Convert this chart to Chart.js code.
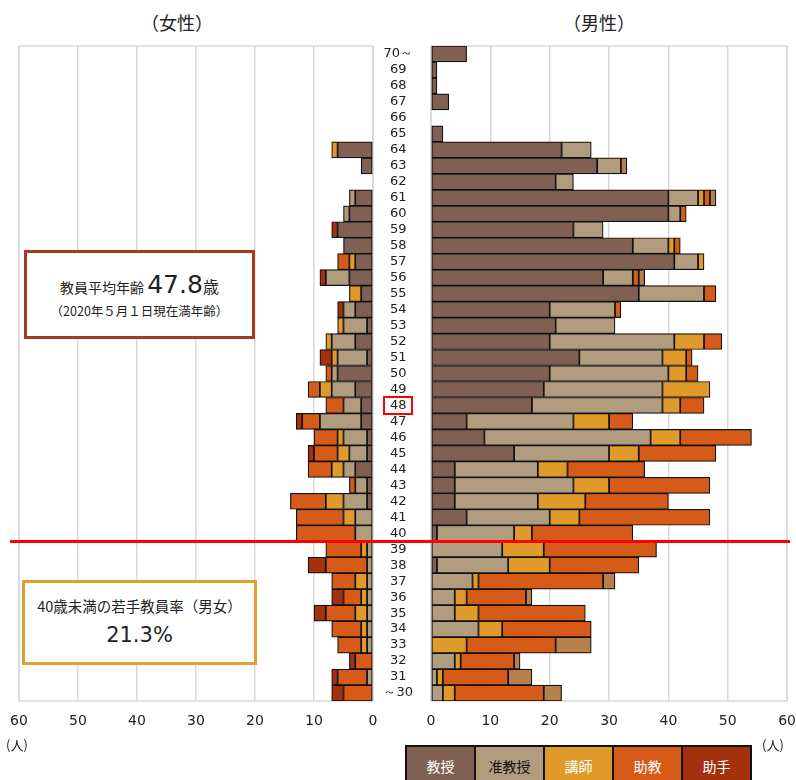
<!DOCTYPE html>
<html>
<head>
<meta charset="utf-8">
<script src="https://cdn.jsdelivr.net/npm/chart.js@4"></script>
<style>
  html, body { margin:0; padding:0; background:#fff; }
  body { width:796px; height:780px; position:relative; overflow:hidden;
         font-family:"DejaVu Sans","Noto Sans CJK JP",sans-serif; color:#222; }
  .abs { position:absolute; }
  #fwrap { left:0; top:0; width:380px; height:780px; }
  #mwrap { left:373px; top:0; width:435px; height:780px; }
  .title { font-size:18px; top:9px; font-family:"Noto Sans CJK JP",sans-serif; }
  .unit { font-size:13px; top:735px; font-family:"Noto Sans CJK JP",sans-serif; }
  #legend { left:405px; top:745px; border-collapse:collapse; }
  #legend td { border:2px solid #111; width:67px; height:38px; text-align:center;
               font-size:14px; font-family:"Noto Sans CJK JP",sans-serif; padding:0; vertical-align:middle; }
  .box { background:#fff; text-align:center; font-family:"Noto Sans CJK JP",sans-serif; box-sizing:border-box; }
  #redline { left:10px; width:780px; height:3px; background:#ff0000; }
  #redbox { border:2px solid #ff0000; box-sizing:border-box; }
</style>
</head>
<body>
<div class="abs title" style="left:141px;">（女性）</div>
<div class="abs title" style="left:563px;">（男性）</div>

<div id="fwrap" class="abs"><canvas id="fchart"></canvas></div>
<div id="mwrap" class="abs"><canvas id="mchart"></canvas></div>

<div class="abs unit" style="left:6px;">(人)</div>
<div class="abs unit" style="left:762px;">(人)</div>

<div class="abs box" style="left:24px; top:250px; width:231px; height:89px; border:3px solid #a83a1c;">
  <div style="margin-top:17px; font-size:14px; white-space:nowrap;">教員平均年齢 <span style="font-size:25px; font-family:'DejaVu Sans',sans-serif;">47.8</span><span style="font-size:16px;">歳</span></div>
  <div style="margin-top:2px; font-size:12.5px; white-space:nowrap;">（2020年５月１日現在満年齢）</div>
</div>
<div class="abs box" style="left:22px; top:580px; width:235px; height:85px; border:3px solid #e3a031;">
  <div style="margin-top:12px; font-size:14.5px; white-space:nowrap;">40歳未満の若手教員率（男女）</div>
  <div style="margin-top:7px; font-size:21px; font-family:'DejaVu Sans',sans-serif;">21.3%</div>
</div>

<div id="redline" class="abs"></div>
<div id="redbox" class="abs"></div>

<table id="legend" class="abs">
  <tr>
    <td style="background:#7f6053;color:#fff;">教授</td>
    <td style="background:#b19d7e;color:#111;">准教授</td>
    <td style="background:#e09a2a;color:#fff;">講師</td>
    <td style="background:#d65a18;color:#fff;">助教</td>
    <td style="background:#a3300f;color:#fff;">助手</td>
  </tr>
</table>

<script>
// ---- data ----
const ageLabels = ['70～','69','68','67','66','65','64','63','62','61','60','59','58','57','56','55','54','53','52','51','50','49','48','47','46','45','44','43','42','41','40','39','38','37','36','35','34','33','32','31','～30'];
const seriesNames = ['教授','准教授','講師','助教','助手'];
const xTicks = [0,10,20,30,40,50,60];

// male (男性)
const maleProfessor      = [6,1,1,3,0,2,22,28,21,40,40,24,34,41,29,35,20,21,20,25,20,19,17,6,9,14,4,4,4,6,1,0,1,0,0,0,0,0,0,0,0];
const maleAssocProfessor = [0,0,0,0,0,0,5,4,3,5,2,5,6,4,5,11,11,10,21,14,20,20,22,18,28,16,14,20,14,14,13,12,12,7,4,4,8,0,4,1,2];
const maleLecturer       = [0,0,0,0,0,0,0,0,0,1,0,0,1,1,0,0,0,0,5,4,3,8,3,6,5,5,5,6,8,5,3,7,7,1,2,4,4,6,1,1,2];
const maleAssistProf     = [0,0,0,0,0,0,0,0,0,1,1,0,1,0,1,2,1,0,3,1,2,0,4,4,12,13,13,17,14,22,17,19,15,21,10,18,15,15,9,11,15];
const maleAssistant      = [0,0,0,0,0,0,0,1,0,1,0,0,0,0,1,0,0,0,0,0,0,0,0,0,0,0,0,0,0,0,0,0,0,2,1,0,0,6,1,4,3];

// female (女性)
const femaleProfessor      = [0,0,0,0,0,0,6,2,0,3,4,6,5,3,4,2,3,1,3,1,6,3,2,2,1,1,3,1,1,0,0,0,0,0,0,0,0,0,0,0,0];
const femaleAssocProfessor = [0,0,0,0,0,0,0,0,0,1,1,0,0,0,4,0,2,4,4,5,1,4,3,7,4,3,2,2,4,3,3,1,1,1,1,1,1,1,0,1,0];
const femaleLecturer       = [0,0,0,0,0,0,1,0,0,0,0,0,0,1,0,2,0,1,1,1,0,2,0,0,1,2,2,0,3,2,0,1,0,2,1,2,1,1,0,0,0];
const femaleAssistProf     = [0,0,0,0,0,0,0,0,0,0,0,0,0,2,0,0,0,0,0,0,1,2,3,3,4,4,4,1,6,8,10,6,7,4,3,5,5,4,3,5,5];
const femaleAssistant      = [0,0,0,0,0,0,0,0,0,0,0,1,0,0,1,0,1,0,0,2,0,0,0,1,0,1,0,0,0,0,0,0,3,0,2,2,0,0,1,1,2];

const colorsFemale = ['#7f6053','#b19d7e','#e09a2a','#d65a18','#a3300f'];
const colorsMale   = ['#7f6053','#b19d7e','#e09a2a','#d65a18','#b5804b'];

function makeSets(arrs, cols){
  return arrs.map((d,i)=>({
    label: seriesNames[i], data: d, backgroundColor: cols[i],
    borderColor:'#111', borderWidth:1.2, borderSkipped:false,
    barPercentage:1, categoryPercentage:1
  }));
}

const frame = {
  id:'frame',
  beforeDatasetsDraw(chart){
    const a = chart.chartArea, c = chart.ctx;
    c.save(); c.strokeStyle='#d9d9d9'; c.lineWidth=1.5;
    c.strokeRect(a.left, a.top, a.right-a.left, a.bottom-a.top);
    c.restore();
  }
};

const tickFont = {family:"'DejaVu Sans', sans-serif", size:14};
function xScale(reverse){
  return {
    stacked:true, min:0, max:60, reverse:reverse,
    afterBuildTicks(s){ s.ticks = xTicks.map(v=>({value:v})); },
    grid:{color:'#d9d9d9', lineWidth:1.5, drawTicks:false},
    border:{display:false},
    ticks:{font:tickFont, color:'#222', padding:12, maxRotation:0},
    afterFit(s){ s.height = 30; }
  };
}

Chart.defaults.animation = false;

new Chart(document.getElementById('fchart'), {
  type:'bar',
  data:{ labels: ageLabels, datasets: makeSets([femaleProfessor,femaleAssocProfessor,femaleLecturer,femaleAssistProf,femaleAssistant], colorsFemale) },
  options:{
    indexAxis:'y', responsive:true, maintainAspectRatio:false,
    layout:{ padding:{ left:19, right:7, top:46, bottom:49 } },
    plugins:{ legend:{display:false}, tooltip:{enabled:false} },
    scales:{
      x: xScale(true),
      y: { stacked:true, display:false }
    }
  },
  plugins:[frame]
});

const markers = {
  id:'markers',
  afterRender(chart){
    const y = chart.scales.y;
    const i40 = ageLabels.indexOf('40'), i39 = ageLabels.indexOf('39');
    const yl = (y.getPixelForValue(i40) + y.getPixelForValue(i39)) / 2;
    const rl = document.getElementById('redline');
    rl.style.top = (yl - 1.5) + 'px';
    const i48 = ageLabels.indexOf('48');
    const yc = y.getPixelForValue(i48);
    const rb = document.getElementById('redbox');
    rb.style.left = (373 + 10) + 'px';
    rb.style.top = (yc - 9) + 'px';
    rb.style.width = '30px';
    rb.style.height = '19px';
  }
};

new Chart(document.getElementById('mchart'), {
  type:'bar',
  data:{ labels: ageLabels, datasets: makeSets([maleProfessor,maleAssocProfessor,maleLecturer,maleAssistProf,maleAssistant], colorsMale) },
  options:{
    indexAxis:'y', responsive:true, maintainAspectRatio:false,
    layout:{ padding:{ left:0, right:0, top:46, bottom:49 } },
    plugins:{ legend:{display:false}, tooltip:{enabled:false} },
    scales:{
      x: xScale(false),
      y: {
        stacked:true, position:'left',
        grid:{display:false, drawTicks:false}, border:{display:false},
        ticks:{font:{family:"'DejaVu Sans', sans-serif", size:13}, color:'#222', crossAlign:'center', padding:18, autoSkip:false},
        afterFit(s){ s.width = 58; }
      }
    }
  },
  plugins:[frame, markers]
});
</script>
</body>
</html>
